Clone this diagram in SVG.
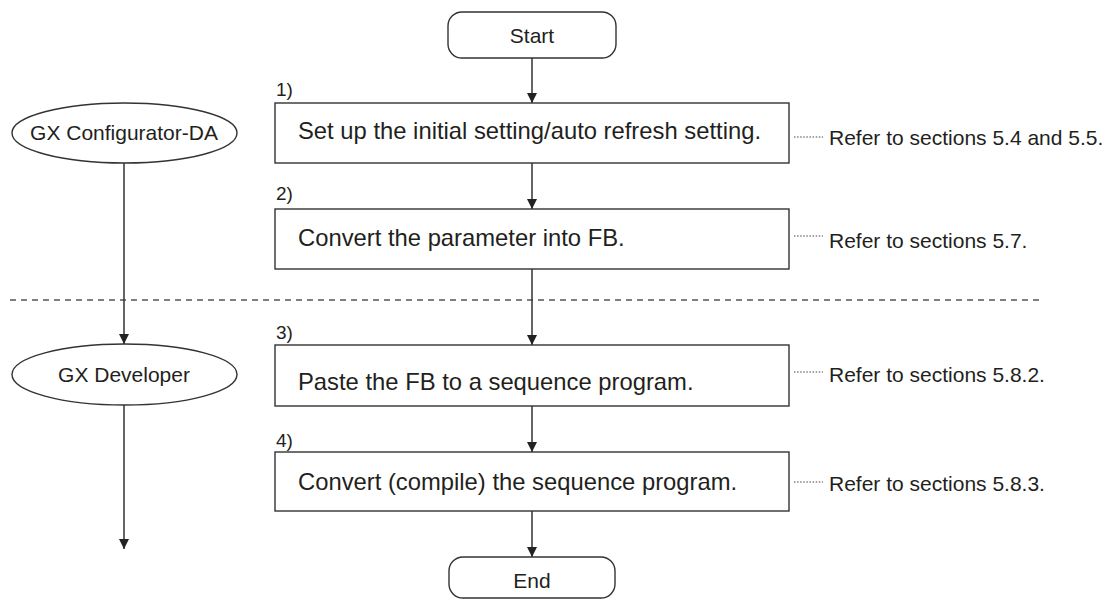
<svg xmlns="http://www.w3.org/2000/svg" width="1118" height="601" viewBox="0 0 1118 601">
<defs>
<style>
.box{fill:#fff;stroke:#333;stroke-width:1.4}
.conn{fill:none;stroke:#333;stroke-width:1.5}
.lead{fill:none;stroke:#444;stroke-width:1.1;stroke-dasharray:1.5 1.6}
.div{fill:none;stroke:#555;stroke-width:1.3;stroke-dasharray:6 5}
text{font-family:"Liberation Sans",Arial,sans-serif;fill:#231f20}
.main{font-size:23.8px}
.ref{font-size:21px}
.term{font-size:21px;text-anchor:middle}
.num{font-size:19px}
</style>
<marker id="ah" viewBox="0 0 10 10" refX="10" refY="5" markerWidth="10" markerHeight="10" markerUnits="userSpaceOnUse" orient="auto">
<path d="M0,0 L10,5 L0,10 z" fill="#222"/>
</marker>
</defs>
<rect width="1118" height="601" fill="#fff"/>
<path class="div" d="M10,300 H1040"/>
<g id="connectors">
<path class="conn" marker-end="url(#ah)" d="M532,58 V103"/>
<path class="conn" marker-end="url(#ah)" d="M532,163 V209"/>
<path class="conn" marker-end="url(#ah)" d="M532,269 V345"/>
<path class="conn" marker-end="url(#ah)" d="M532,406 V452"/>
<path class="conn" marker-end="url(#ah)" d="M532,511 V557"/>
<path class="conn" marker-end="url(#ah)" d="M124,163 V344"/>
<path class="conn" marker-end="url(#ah)" d="M124,405 V549"/>
<path class="lead" d="M794,137 H823"/>
<path class="lead" d="M794,236 H823"/>
<path class="lead" d="M794,372 H823"/>
<path class="lead" d="M794,482 H823"/>
</g>
<g id="start">
<rect class="box" x="448" y="12" width="168" height="46" rx="14"/>
<text class="term" x="532" y="43">Start</text>
</g>
<g id="step1">
<text class="num" x="276" y="96">1)</text>
<rect class="box" x="275" y="103" width="514" height="60"/>
<text class="main" x="298" y="139">Set up the initial setting/auto refresh setting.</text>
<text class="ref" x="829" y="145">Refer to sections 5.4 and 5.5.</text>
</g>
<g id="step2">
<text class="num" x="276" y="200">2)</text>
<rect class="box" x="275" y="209" width="514" height="60"/>
<text class="main" x="298" y="246">Convert the parameter into FB.</text>
<text class="ref" x="829" y="248">Refer to sections 5.7.</text>
</g>
<g id="step3">
<text class="num" x="276" y="339">3)</text>
<rect class="box" x="275" y="345" width="514" height="61"/>
<text class="main" x="298" y="390">Paste the FB to a sequence program.</text>
<text class="ref" x="829" y="382">Refer to sections 5.8.2.</text>
</g>
<g id="step4">
<text class="num" x="276" y="447">4)</text>
<rect class="box" x="275" y="452" width="514" height="59"/>
<text class="main" x="298" y="490">Convert (compile) the sequence program.</text>
<text class="ref" x="829" y="491">Refer to sections 5.8.3.</text>
</g>
<g id="end">
<rect class="box" x="449" y="557" width="166" height="41" rx="14"/>
<text class="term" x="532" y="588">End</text>
</g>
<g id="gx-configurator">
<ellipse class="box" cx="124.5" cy="133" rx="112.5" ry="30"/>
<text class="term" x="124" y="140">GX Configurator-DA</text>
</g>
<g id="gx-developer">
<ellipse class="box" cx="124.5" cy="374.5" rx="112.5" ry="30.5"/>
<text class="term" x="124" y="382">GX Developer</text>
</g>
</svg>
